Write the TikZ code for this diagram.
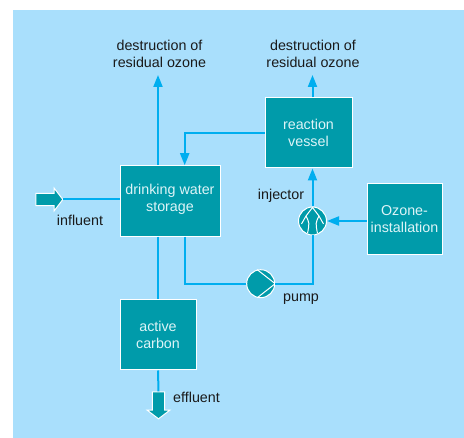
\documentclass[tikz,border=0pt]{standalone}
\usepackage{fontspec}
\setmainfont{Liberation Sans}
\usetikzlibrary{arrows.meta,shapes.arrows}
\definecolor{panelblue}{HTML}{A9DFFC}
\definecolor{tankteal}{HTML}{009BAA}
\definecolor{pipeblue}{HTML}{00AEEF}
\definecolor{boxtext}{HTML}{DDF4F7}
\definecolor{labeltext}{HTML}{1A1A1A}
\begin{document}
\begin{tikzpicture}
        [
            x = 1pt,
            y = -1pt,
            tank/.style={rectangle, draw=white, line width=1pt, fill=tankteal, text=boxtext, align=center, inner sep=0pt, font=\fontsize{14.3}{17}\selectfont},
            machine/.style={circle, draw=white, line width=1pt, fill=tankteal, minimum size=28pt, inner sep=0pt},
            bigarrow/.style={single arrow, draw=white, line width=1pt, fill=tankteal, minimum height=27pt, single arrow head extend=5.3pt, single arrow tip angle=105, inner xsep=0pt, inner ysep=5.6pt},
            pipe/.style={draw=pipeblue, line width=2pt},
            feed/.style={pipe, -{Triangle[length=12pt,width=9pt]}},
            vane/.style={draw=white, line width=1pt},
            note/.style={text=labeltext, align=center, inner sep=0pt, font=\fontsize{14.3}{17}\selectfont},
        ]
        \useasboundingbox (0,0) rectangle (464,438);
        \fill[panelblue] (13,10) rectangle (464,438);

        % tanks
        \node[tank, minimum width=100pt, minimum height=70.5pt] (storage) at (170,201) {\mbox{}\\[-11pt]drinking water\\storage};
        \node[tank, minimum width=87pt, minimum height=70pt] (vessel) at (308.5,133) {reaction\\vessel};
        \node[tank, minimum width=75pt, minimum height=71pt] (ozone) at (404.5,219.5) {Ozone-\\installation};
        \node[tank, minimum width=76pt, minimum height=70pt] (carbon) at (158,335) {active\\carbon};

        % pump and injector
        \node[machine] (injector) at (312.5,221) {};
        \node[machine] (pump) at (260.7,283.7) {};
        \draw[vane] (pump.104) -- (pump.east) -- (pump.-104);
        \draw[vane, shift={(injector)}] (-11,3) -- (-6.5,-5) -- (0,-13.5) -- (6.5,-5) -- (11,3);
        \draw[vane, shift={(injector)}] (-6.5,-5) .. controls (-3,2) .. (-5,12.5);
        \draw[vane, shift={(injector)}] (6.5,-5) .. controls (3,2) .. (5,12.5);

        % big arrows
        \node[bigarrow] (influent) at (47,199.5) {};
        \node[bigarrow, rotate=-90] (effluent) at (158.5,403) {};

        % free ends and pipe positions
        \coordinate (ventleft) at (158,75);
        \coordinate (ventright) at (312.5,75);
        \coordinate (storagepipe) at (184.7,165);

        % pipes
        \draw[pipe] (influent.tip) -- (storage.west |- influent.tip);
        \draw[feed] (storage.north -| carbon.north) -- (ventleft);
        \draw[feed] (vessel.north -| ventright) -- (ventright);
        \draw[feed] (vessel.west) -| (storage.north -| storagepipe);
        \draw[pipe] (storage.south -| carbon.north) -- (carbon.north);
        \draw[pipe] (carbon.south) -- (effluent.west);
        \draw[pipe] (storage.south -| storagepipe) |- (pump.west);
        \draw[pipe] (pump.east) -| (injector.south);
        \draw[feed] (injector.north) -- (vessel.south -| injector.north);
        \draw[feed] (ozone.west |- injector) -- (injector.east);

        % labels
        \node[note] (ventlefttext) at (159.5,54) {destruction of\\residual ozone};
        \node[note] (ventrighttext) at (313,54) {destruction of\\residual ozone};
        \node[note] (influenttext) at (80,220) {influent};
        \node[note, anchor=west] (effluenttext) at (173,397) {effluent};
        \node[note] (injectortext) at (281,196) {injector};
        \node[note] (pumptext) at (301,299) {pump};
    \end{tikzpicture}
\end{document}
